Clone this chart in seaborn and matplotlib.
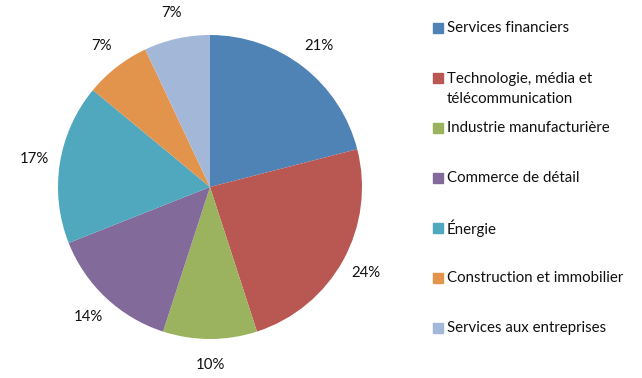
import matplotlib
matplotlib.use('Agg')
import matplotlib.pyplot as plt
from matplotlib.patches import Rectangle
import seaborn as sns

sectors = ['Services financiers', 'Technologie, média et\ntélécommunication',
           'Industrie manufacturière', 'Commerce de détail', 'Énergie',
           'Construction et immobilier', 'Services aux entreprises']
shares = [21, 24, 10, 14, 17, 7, 7]
colors = ['#5083b5', '#b95752', '#9bb35e', '#826a9b', '#4fa8bd', '#e3944c', '#a3b8d9']


if __name__ == '__main__':
  sns.set_style('white')
  plt.rcParams['font.family'] = ['Lato', 'DejaVu Sans']
  palette = sns.color_palette(colors)

  fig = plt.figure(figsize=(6.42, 3.78), dpi=100)
  W, H = 642, 378
  cx, cy, r = 210, 187, 152
  ax = fig.add_axes([(cx - r) / W, (H - cy - r) / H, 2 * r / W, 2 * r / H])
  ax.pie(shares, colors=palette, startangle=90, counterclock=False,
         autopct='%.0f%%', pctdistance=1.17,
         wedgeprops={'linewidth': 0, 'edgecolor': 'none'},
         textprops={'fontsize': 10.8, 'color': '#111111'})
  ax.set_xlim(-1, 1)
  ax.set_ylim(-1, 1)
  ax.set_aspect('equal')

  # legend drawn by hand so the two-line entry keeps its square on the first line
  y0, step, line = 28, 50, 22
  for i, (name, col) in enumerate(zip(sectors, palette)):
    y = y0 + i * step
    fig.patches.append(Rectangle((433 / W, (H - y - 5) / H), 10 / W, 10 / H,
                                 transform=fig.transFigure, color=col, figure=fig))
    n_lines = name.count('\n') + 1
    ty = y + (n_lines - 1) * line / 2
    fig.text(447 / W, (H - ty) / H, name, fontsize=10.8, color='#111111',
             va='center', linespacing=1.5, transform=fig.transFigure)

  plt.savefig('out.png', dpi=100)
